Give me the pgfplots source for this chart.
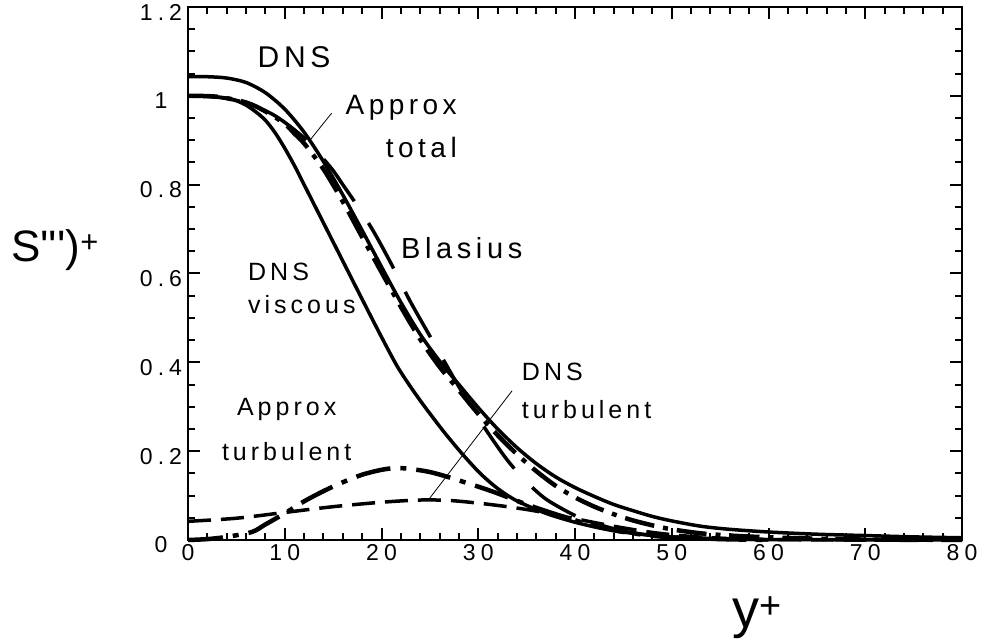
\documentclass[border=0pt]{standalone}
\usepackage{fontspec}
\setmainfont{Liberation Sans}
\newfontfamily\lblfont{Liberation Sans}[LetterSpace=16]
\newfontfamily\tickfont{Liberation Sans}[LetterSpace=22]
\usepackage{pgfplots}
\pgfplotsset{compat=1.18}

\begin{document}
\begin{tikzpicture}
\useasboundingbox (0,0) rectangle (988pt,644pt);
\begin{axis}[
  at={(188pt,104pt)}, anchor=south west,
  width=774pt, height=533pt, scale only axis,
  xmin=0, xmax=80, ymin=0, ymax=1.2,
  xtick={0,10,20,30,40,50,60,70,80},
  ytick={0,0.2,0.4,0.6,0.8,1,1.2},
  minor x tick num=4, minor y tick num=3,
  tick align=inside,
  major tick length=12pt, minor tick length=7pt,
  axis line style={line width=2.5pt},
  every tick/.style={line width=2pt, black},
  /pgf/number format/assume math mode=true,
  ticklabel style={font=\tickfont\fontsize{23}{23}\selectfont},
  yticklabel style={anchor=center, yshift=-5pt, xshift=-27pt},
  xticklabel style={yshift=-1pt},
  clip=false,
]
% DNS total
\addplot[black, line width=3.5pt, smooth] coordinates {
(0,1.043)(2,1.043)(4,1.04)(6,1.03)(8,1.007)(10,0.97)(12,0.918)(14,0.852)(16,0.777)(18,0.697)(20,0.615)(22,0.535)(24,0.463)(26,0.403)(28,0.35)(30,0.298)(32,0.25)(34,0.208)(36,0.172)(38,0.142)(40,0.118)(42,0.098)(44,0.08)(46,0.066)(48,0.053)(50,0.043)(53,0.031)(56,0.024)(60,0.018)(65,0.013)(70,0.01)(75,0.007)(80,0.005)};
% DNS viscous
\addplot[black, line width=3.5pt, smooth] coordinates {
(0,1.0)(2,0.999)(4,0.995)(5,0.989)(6,0.979)(7,0.964)(8,0.945)(9,0.917)(10,0.882)(11,0.843)(12,0.8)(14,0.714)(16,0.628)(18,0.542)(20,0.457)(21.6,0.392)(23,0.345)(24.3,0.305)(26,0.256)(27.1,0.226)(28.5,0.19)(30.2,0.15)(32,0.116)(34,0.088)(37,0.06)(40,0.04)(43,0.025)(46,0.015)(50,0.007)(55,0.003)(60,0.001)(80,0)};
% Approx total
\addplot[black, line width=4.5pt, smooth, dash pattern=on 30pt off 9pt on 5pt off 9pt] coordinates {
(0,1.0)(3,0.998)(6,0.985)(8,0.965)(10,0.937)(11,0.915)(12,0.893)(14,0.835)(16,0.762)(18,0.682)(20,0.603)(22,0.525)(24,0.452)(26,0.39)(28,0.337)(30,0.284)(32,0.236)(34,0.193)(36,0.155)(38,0.122)(40,0.096)(42,0.075)(44,0.058)(46,0.044)(48,0.033)(50,0.024)(53,0.015)(56,0.01)(60,0.006)(65,0.003)(70,0.001)(80,0)};
% Blasius
\addplot[black, line width=3.5pt, smooth, dash pattern=on 52pt off 26pt] coordinates {
(0,1.0)(3,0.997)(6,0.984)(9,0.955)(12,0.905)(14.7,0.84)(16,0.8)(17.8,0.743)(19.3,0.69)(21,0.622)(22.9,0.54)(25.5,0.44)(28,0.345)(30,0.275)(31.2,0.235)(33,0.18)(34.8,0.135)(37,0.092)(40,0.055)(42,0.038)(45,0.02)(48,0.01)(52,0.004)(56,0.001)(60,0)};
% DNS turbulent
\addplot[black, line width=3.5pt, smooth, dash pattern=on 23pt off 10pt] coordinates {
(0,0.042)(5,0.049)(10,0.062)(15,0.075)(20,0.085)(24,0.09)(27,0.089)(30,0.083)(33,0.075)(36,0.065)(40,0.048)(44,0.031)(48,0.017)(52,0.008)(56,0.003)(60,0.001)(70,0)(80,0)};
% Approx turbulent
\addplot[black, line width=4.5pt, smooth, dash pattern=on 35pt off 10pt on 6pt off 10pt] coordinates {
(0,0)(2,0.002)(4,0.007)(6.6,0.018)(8,0.035)(10,0.06)(12,0.087)(14,0.11)(16,0.13)(18,0.147)(20,0.158)(21.5,0.162)(23,0.16)(25,0.153)(27,0.141)(30,0.12)(32,0.105)(35,0.08)(38,0.058)(41,0.038)(44,0.022)(47,0.012)(50,0.006)(55,0.002)(60,0)};

% labels
\node[font=\lblfont\fontsize{30}{30}\selectfont] at (axis cs:10.96,1.086) {DNS};
\node[font=\lblfont\fontsize{28}{28}\selectfont, anchor=east, inner sep=0pt] at (axis cs:27.8,0.973) {Approx};
\node[font=\lblfont\fontsize{28}{28}\selectfont, anchor=east, inner sep=0pt] at (axis cs:27.8,0.883) {total};
\node[font=\lblfont\fontsize{29}{29}\selectfont, anchor=west, inner sep=0pt] at (axis cs:22.0,0.658) {Blasius};
\node[font=\lblfont\fontsize{25}{25}\selectfont, anchor=west, inner sep=0pt] at (axis cs:6.2,0.604) {DNS};
\node[font=\lblfont\fontsize{25}{25}\selectfont, anchor=west, inner sep=0pt] at (axis cs:6.2,0.529) {viscous};
\node[font=\lblfont\fontsize{25}{25}\selectfont, inner sep=0pt] at (axis cs:10.2,0.293) {Approx};
\node[font=\lblfont\fontsize{25}{25}\selectfont, inner sep=0pt] at (axis cs:10.2,0.198) {turbulent};
\node[font=\lblfont\fontsize{25}{25}\selectfont, anchor=west, inner sep=0pt] at (axis cs:34.5,0.378) {DNS};
\node[font=\lblfont\fontsize{25}{25}\selectfont, anchor=west, inner sep=0pt] at (axis cs:34.5,0.293) {turbulent};
\draw[black, line width=0.8pt] (axis cs:12.6,0.90) -- (axis cs:14.85,0.961);
\draw[black, line width=0.8pt] (axis cs:25.0,0.0946) -- (axis cs:33.5,0.336);
\end{axis}
\node[anchor=west, inner sep=0pt, font=\fontsize{44}{44}\selectfont] at (11pt,394pt) {S\textquotesingle\textquotesingle\textquotesingle)\textsuperscript{+}};
\node[inner sep=0pt, font=\fontsize{54}{54}\selectfont] at (757pt,26pt) {y\textsuperscript{+}};
\end{tikzpicture}
\end{document}
